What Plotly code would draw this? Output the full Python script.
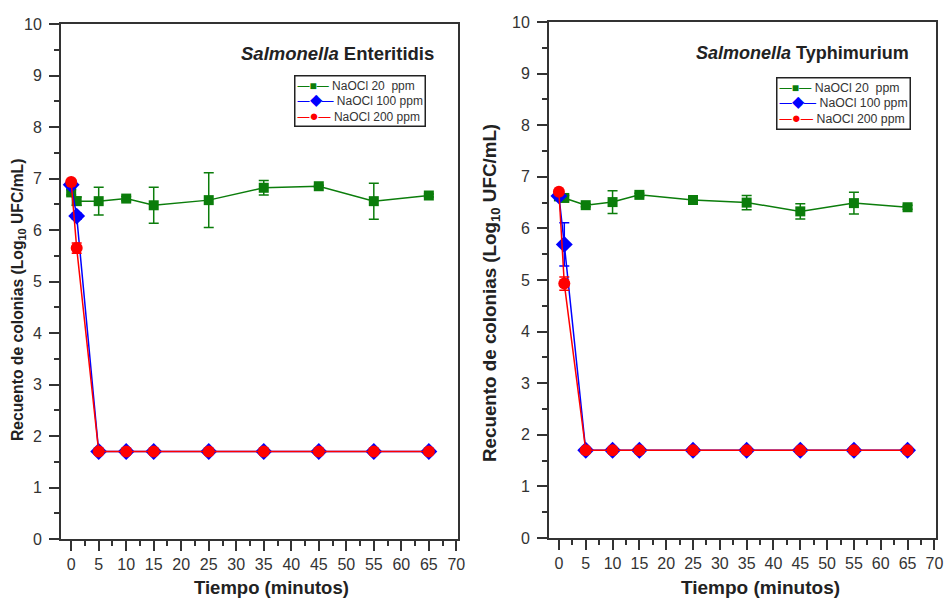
import plotly.graph_objects as go

# ---------------- data ----------------
time_min = [0, 1, 5, 10, 15, 25, 35, 45, 55, 65]

# Salmonella Enteritidis
ent_20 = [6.73, 6.56, 6.56, 6.61, 6.48, 6.58, 6.82, 6.85, 6.56, 6.67]
ent_20_err = [0.05, 0.08, 0.27, 0.04, 0.35, 0.53, 0.14, 0.02, 0.35, 0.03]
ent_100 = [6.88, 6.27, 1.7, 1.7, 1.7, 1.7, 1.7, 1.7, 1.7, 1.7]
ent_100_err = [0.04, 0.06, 0, 0, 0, 0, 0, 0, 0, 0]
ent_200 = [6.93, 5.65, 1.7, 1.7, 1.7, 1.7, 1.7, 1.7, 1.7, 1.7]
ent_200_err = [0.03, 0.1, 0, 0, 0, 0, 0, 0, 0, 0]

# Salmonella Typhimurium
typ_20 = [6.62, 6.59, 6.45, 6.51, 6.65, 6.55, 6.50, 6.33, 6.49, 6.41]
typ_20_err = [0.04, 0.05, 0.03, 0.22, 0.03, 0.04, 0.14, 0.15, 0.21, 0.04]
typ_100 = [6.63, 5.69, 1.7, 1.7, 1.7, 1.7, 1.7, 1.7, 1.7, 1.7]
typ_100_err = [0.03, 0.42, 0, 0, 0, 0, 0, 0, 0, 0]
typ_200 = [6.71, 4.93, 1.7, 1.7, 1.7, 1.7, 1.7, 1.7, 1.7, 1.7]
typ_200_err = [0.03, 0.13, 0, 0, 0, 0, 0, 0, 0, 0]

series_names = ["NaOCl 20\u00a0 ppm", "NaOCl 100 ppm", "NaOCl 200 ppm"]
x_ticks = list(range(0, 75, 5))
y_ticks = list(range(0, 11, 1))

panel_titles = ["<i>Salmonella</i> Enteritidis", "<i>Salmonella</i> Typhimurium"]
y_title = "Recuento de colonias (Log<sub>10</sub> UFC/mL)"
x_title = "Tiempo (minutos)"

# ---------------- style ----------------
FONT = "Liberation Sans, Arial, sans-serif"
GREEN = "#0b7d0b"
BLUE = "#0000ff"
RED = "#ff0000"
AX = "#333333"

styles = [
    dict(color=GREEN, symbol="square", size=10, glyph="\u25a0", gsize=12),
    dict(color=BLUE, symbol="diamond", size=13, glyph="\u25c6", gsize=16),
    dict(color=RED, symbol="circle", size=12, glyph="\u25cf", gsize=15),
]

fig = go.Figure()

panels = [
    (ent_20, ent_20_err, ent_100, ent_100_err, ent_200, ent_200_err),
    (typ_20, typ_20_err, typ_100, typ_100_err, typ_200, typ_200_err),
]

for p, data in enumerate(panels):
    xa = "x" if p == 0 else "x2"
    ya = "y" if p == 0 else "y2"
    for s in range(3):
        vals = data[2 * s]
        errs = data[2 * s + 1]
        st = styles[s]
        fig.add_trace(go.Scatter(
            x=time_min, y=vals, name=series_names[s],
            xaxis=xa, yaxis=ya, showlegend=False,
            mode="lines+markers",
            line=dict(color=st["color"], width=1.5),
            marker=dict(color=st["color"], symbol=st["symbol"], size=st["size"],
                        line=dict(width=0)),
            error_y=dict(type="data", array=errs, visible=True,
                         color=st["color"], thickness=1.5, width=5),
        ))

common_x = dict(
    range=[-1.85, 70.3], tickvals=x_ticks, ticks="outside", ticklen=10, tickwidth=1.5,
    tickcolor=AX, showline=True, linecolor=AX, linewidth=1.8, mirror=True,
    showgrid=False, zeroline=False, automargin=False,
    tickfont=dict(family=FONT, size=16, color=AX),
    minor=dict(ticks="outside", ticklen=5, tickwidth=1.5, tickcolor=AX, dtick=2.5, tick0=0),
)
common_y = dict(
    range=[0, 10], tickvals=y_ticks, ticks="outside", ticklen=10, tickwidth=1.5,
    tickcolor=AX, showline=True, linecolor=AX, linewidth=1.8, mirror=True,
    showgrid=False, zeroline=False, automargin=False, ticklabelstandoff=4,
    tickfont=dict(family=FONT, size=16, color=AX),
    minor=dict(ticks="outside", ticklen=5, tickwidth=1.5, tickcolor=AX, dtick=0.5, tick0=0),
)

W, H = 948, 598
fig.update_layout(
    width=W, height=H,
    margin=dict(l=0, r=0, t=0, b=0),
    paper_bgcolor="white", plot_bgcolor="white",
    font=dict(family=FONT, color="#222"),
    xaxis=dict(domain=[61 / W, 458 / W], anchor="y", **common_x),
    yaxis=dict(domain=[1 - 539 / H, 1 - 24 / H], anchor="x", **common_y),
    xaxis2=dict(domain=[549 / W, 936 / W], anchor="y2", **common_x),
    yaxis2=dict(domain=[1 - 538 / H, 1 - 22 / H], anchor="x2", **common_y),
    showlegend=False,
)


def legend_text():
    rows = []
    for s in range(3):
        st = styles[s]
        sym = (f'<span style="color:{st["color"]}">\u2014</span>'
               f'<span style="color:{st["color"]};font-size:{st["gsize"]}px">{st["glyph"]}</span>'
               f'<span style="color:{st["color"]}">\u2014</span>')
        rows.append(f"{sym} {series_names[s]}")
    return "<br>".join(rows)


annotations = [
    # legends (left / right panel)
    dict(text=legend_text(), x=294 / W, y=1 - 75 / H, xref="paper", yref="paper",
         xanchor="left", yanchor="top", align="left", showarrow=False,
         bordercolor="#222", borderwidth=1.5, borderpad=2, bgcolor="white",
         font=dict(family=FONT, size=12, color="#333")),
    dict(text=legend_text(), x=776 / W, y=1 - 77 / H, xref="paper", yref="paper",
         xanchor="left", yanchor="top", align="left", showarrow=False,
         bordercolor="#222", borderwidth=1.5, borderpad=2, bgcolor="white",
         font=dict(family=FONT, size=12.3, color="#333")),
    # panel titles
    dict(text=panel_titles[0], x=436 / W, y=1 - 54 / H, xref="paper", yref="paper",
         xanchor="right", yanchor="middle", showarrow=False,
         font=dict(family=FONT, size=18.5, color="#222", weight="bold")),
    dict(text=panel_titles[1], x=911 / W, y=1 - 53 / H, xref="paper", yref="paper",
         xanchor="right", yanchor="middle", showarrow=False,
         font=dict(family=FONT, size=18, color="#222", weight="bold")),
    # y titles
    dict(text=y_title, x=18 / W, y=1 - 300 / H, xref="paper", yref="paper",
         textangle=-90, xanchor="center", yanchor="middle", showarrow=False,
         font=dict(family=FONT, size=15.7, color="#222", weight="bold")),
    dict(text=y_title, x=491 / W, y=1 - 293 / H, xref="paper", yref="paper",
         textangle=-90, xanchor="center", yanchor="middle", showarrow=False,
         font=dict(family=FONT, size=18.8, color="#222", weight="bold")),
    # x titles
    dict(text=x_title, x=271 / W, y=1 - 587 / H, xref="paper", yref="paper",
         xanchor="center", yanchor="middle", showarrow=False,
         font=dict(family=FONT, size=18.5, color="#222", weight="bold")),
    dict(text=x_title, x=760 / W, y=1 - 587 / H, xref="paper", yref="paper",
         xanchor="center", yanchor="middle", showarrow=False,
         font=dict(family=FONT, size=19, color="#222", weight="bold")),
]
fig.update_layout(annotations=annotations)

fig.write_html("out.html")
